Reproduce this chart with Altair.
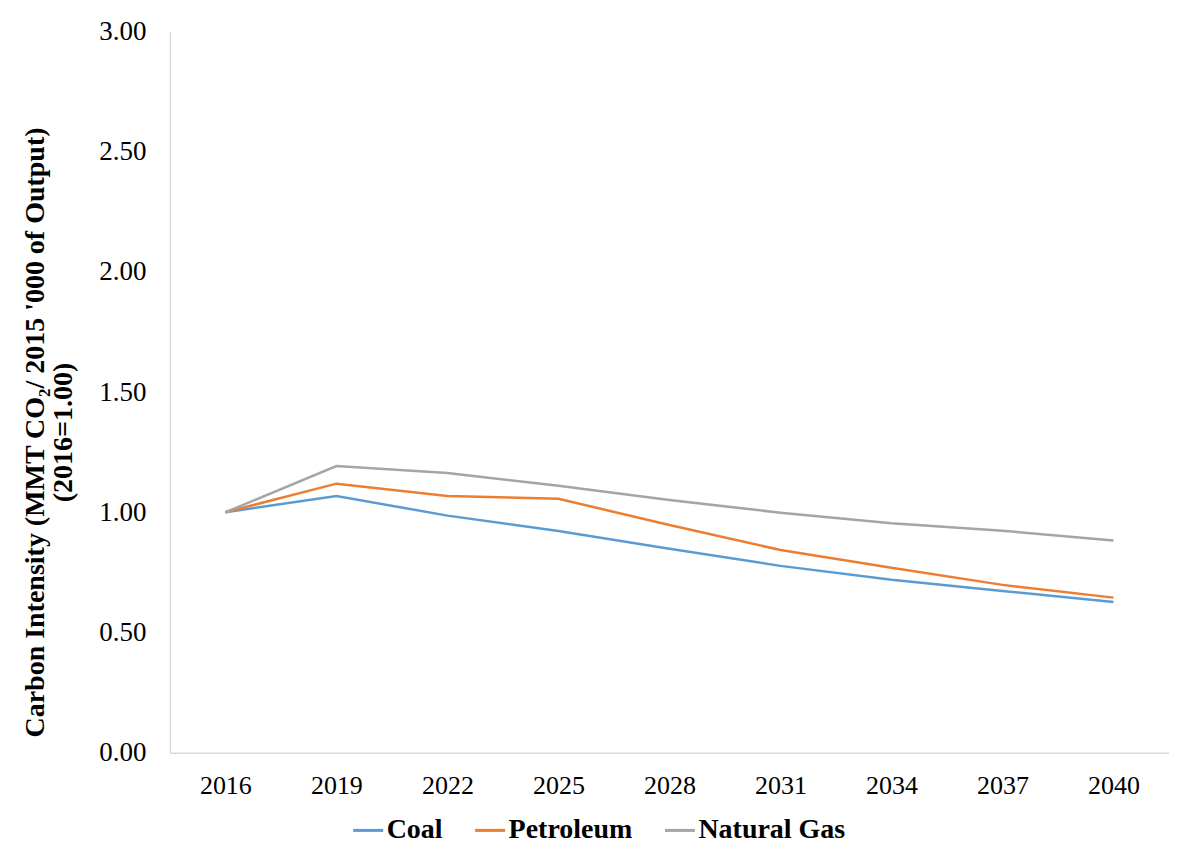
import altair as alt
import pandas as pd

years = ["2016", "2019", "2022", "2025", "2028", "2031", "2034", "2037", "2040"]
coal = [1.00, 1.068, 0.986, 0.922, 0.848, 0.777, 0.719, 0.673, 0.627]
petroleum = [1.00, 1.119, 1.068, 1.056, 0.947, 0.843, 0.769, 0.698, 0.645]
natural_gas = [1.00, 1.192, 1.163, 1.110, 1.051, 0.998, 0.954, 0.923, 0.883]

series_names = ["Coal", "Petroleum", "Natural Gas"]
series_colors = ["#5B9BD5", "#ED7D31", "#A5A5A5"]

rows = []
for name, vals in zip(series_names, [coal, petroleum, natural_gas]):
    for y, v in zip(years, vals):
        rows.append({"Year": y, "Value": v, "Series": name})
df = pd.DataFrame(rows)

FONT = "Liberation Serif"

chart = alt.Chart(df).mark_line(strokeWidth=2.5).encode(
    x=alt.X("Year:O", sort=years,
            scale=alt.Scale(type="point", padding=0.5),
            axis=alt.Axis(title=None, labelAngle=0, ticks=False, domainColor="#D9D9D9",
                          domainWidth=1.5, labelFontSize=26, labelFont=FONT,
                          labelColor="#000000", labelPadding=20, grid=False)),
    y=alt.Y("Value:Q",
            scale=alt.Scale(domain=[0, 3], nice=False),
            axis=alt.Axis(values=[0, 0.5, 1, 1.5, 2, 2.5, 3], format=".2f",
                          title=["Carbon Intensity (MMT CO₂/ 2015 '000 of Output)", "(2016=1.00)"],
                          titleFont=FONT, titleFontSize=28, titleFontWeight="bold",
                          titleColor="#000000", titleX=-120, titleY=401,
                          titleAlign="center", titleAngle=-90, titleLineHeight=28,
                          ticks=False, domainColor="#D9D9D9", domainWidth=1.5,
                          labelFontSize=27, labelFont=FONT, labelColor="#000000",
                          labelPadding=24, grid=False)),
    color=alt.Color("Series:N", sort=series_names,
                    scale=alt.Scale(domain=series_names, range=series_colors),
                    legend=alt.Legend(title=None, orient="none", direction="horizontal",
                                      legendX=182, legendY=783,
                                      symbolType="stroke", symbolSize=900,
                                      symbolStrokeWidth=3, labelFont=FONT,
                                      labelFontSize=28, labelFontWeight="bold",
                                      labelColor="#000000", columnPadding=26,
                                      labelOffset=2)),
).properties(
    width=1000, height=722,
    autosize=alt.AutoSizeParams(type="none"),
    padding={"left": 162, "top": 23, "right": 0, "bottom": 90},
).configure_view(stroke=None)

chart.save("out.html", embed_options={"renderer": "svg", "actions": False})
